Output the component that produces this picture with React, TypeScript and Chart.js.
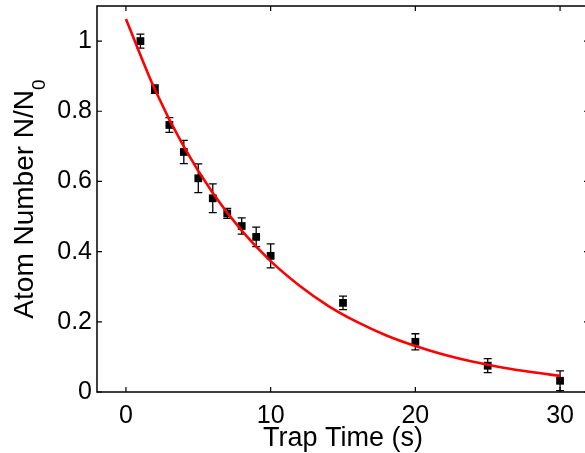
import React, { useEffect, useRef } from "react";
import { Chart, registerables } from "chart.js";

Chart.register(...registerables);

// Measured data (Trap time in s, normalised atom number, error bar half-height)
const trapTimes = [1, 2, 3, 4, 5, 6, 7, 8, 9, 10, 15, 20, 25, 30];
const atomNumbers = [1.0, 0.863, 0.761, 0.684, 0.609, 0.552, 0.509, 0.473, 0.442, 0.388, 0.254, 0.143, 0.075, 0.032];
const atomErrors = [0.02, 0.012, 0.021, 0.033, 0.041, 0.041, 0.014, 0.023, 0.028, 0.034, 0.019, 0.023, 0.02, 0.028];

// Fit curve
const fitTimes = [0, 2, 4, 6, 8, 10, 12, 14, 16, 18, 20, 22, 24, 26, 28, 30];
const fitValues = [1.063, 0.862, 0.699, 0.567, 0.46, 0.373, 0.303, 0.245, 0.199, 0.161, 0.131, 0.106, 0.086, 0.07, 0.057, 0.046];

// Axes
const xTicks = [0, 10, 20, 30];
const yTicks = [0, 0.2, 0.4, 0.6, 0.8, 1];
const yTickLabels = ["0", "0.2", "0.4", "0.6", "0.8", "1"];
const xTitle = "Trap Time (s)";
const yTitleMain = "Atom Number N/N";
const yTitleSub = "0";

const FONT = "'Liberation Sans', Arial, Helvetica, sans-serif";

export default function App() {
  const ref = useRef<HTMLCanvasElement>(null);

  useEffect(() => {
    const canvas = ref.current;
    if (!canvas) return;

    const framePlugin = {
      id: "frame",
      beforeDatasetsDraw(chart: any) {
        const { ctx, scales } = chart;
        const xs = scales.x;
        const ys = scales.y;
        ctx.save();
        ctx.strokeStyle = "#000";
        ctx.lineWidth = 1.3;
        trapTimes.forEach((t, i) => {
          const px = xs.getPixelForValue(t);
          const top = ys.getPixelForValue(atomNumbers[i] + atomErrors[i]);
          const bot = ys.getPixelForValue(atomNumbers[i] - atomErrors[i]);
          ctx.beginPath();
          ctx.moveTo(px, top);
          ctx.lineTo(px, bot);
          ctx.moveTo(px - 4, top);
          ctx.lineTo(px + 4, top);
          ctx.moveTo(px - 4, bot);
          ctx.lineTo(px + 4, bot);
          ctx.stroke();
        });
        ctx.restore();
      },
      afterDraw(chart: any) {
        const { ctx, chartArea, scales } = chart;
        const { left, right, top, bottom } = chartArea;
        const xs = scales.x;
        const ys = scales.y;
        ctx.save();
        ctx.strokeStyle = "#000";
        ctx.lineWidth = 1.5;
        ctx.strokeRect(left, top, right - left, bottom - top);
        ctx.lineWidth = 1.2;
        ctx.beginPath();
        const tl = 5;
        xTicks.forEach((v) => {
          const px = xs.getPixelForValue(v);
          ctx.moveTo(px, bottom);
          ctx.lineTo(px, bottom - tl);
          ctx.moveTo(px, top);
          ctx.lineTo(px, top + tl);
        });
        yTicks.forEach((v) => {
          const py = ys.getPixelForValue(v);
          ctx.moveTo(left, py);
          ctx.lineTo(left + tl, py);
          ctx.moveTo(right, py);
          ctx.lineTo(right - tl, py);
        });
        ctx.stroke();

        // axis titles
        ctx.fillStyle = "#000";
        ctx.font = `27px ${FONT}`;
        ctx.textAlign = "center";
        ctx.textBaseline = "alphabetic";
        ctx.fillText(xTitle, (left + right) / 2, 446);

        ctx.translate(33, (top + bottom) / 2);
        ctx.rotate(-Math.PI / 2);
        ctx.textAlign = "left";
        ctx.font = `28px ${FONT}`;
        const w1 = ctx.measureText(yTitleMain).width;
        ctx.font = `19px ${FONT}`;
        const w2 = ctx.measureText(yTitleSub).width;
        const start = -(w1 + w2) / 2;
        ctx.font = `28px ${FONT}`;
        ctx.fillText(yTitleMain, start, 0);
        ctx.font = `19px ${FONT}`;
        ctx.fillText(yTitleSub, start + w1, 12);
        ctx.restore();
      },
    };

    const chart = new Chart(canvas, {
      type: "scatter",
      data: {
        datasets: [
          {
            type: "line",
            label: "fit",
            data: fitTimes.map((x, i) => ({ x, y: fitValues[i] })),
            borderColor: "#ff0000",
            backgroundColor: "#ff0000",
            borderWidth: 2.6,
            pointRadius: 0,
            fill: false,
            cubicInterpolationMode: "monotone",
          } as any,
          {
            type: "scatter",
            label: "data",
            data: trapTimes.map((x, i) => ({ x, y: atomNumbers[i] })),
            backgroundColor: "#000",
            borderColor: "#000",
            borderWidth: 0,
            pointStyle: "rect",
            pointRadius: 5.5,
          },
        ],
      },
      options: {
        responsive: false,
        animation: false,
        devicePixelRatio: 1,
        layout: { padding: { left: 0, right: 31, top: 6, bottom: 0 } },
        plugins: { legend: { display: false }, tooltip: { enabled: false } },
        scales: {
          x: {
            type: "linear",
            position: "bottom",
            min: -2,
            max: 32,
            afterBuildTicks: (s: any) => {
              s.ticks = xTicks.map((v) => ({ value: v }));
            },
            afterFit: (s: any) => {
              s.height = 453 - 392;
              s.paddingLeft = 0;
              s.paddingRight = 0;
              s.paddingTop = 0;
              s.paddingBottom = 0;
            },
            grid: { display: false, drawTicks: false },
            border: { display: false },
            ticks: {
              color: "#000",
              font: { family: FONT, size: 25 },
              padding: 9,
              maxRotation: 0,
              autoSkip: false,
              callback: (v: any) => String(v),
            },
          },
          y: {
            type: "linear",
            min: 0,
            max: 1.1,
            afterBuildTicks: (s: any) => {
              s.ticks = yTicks.map((v) => ({ value: v }));
            },
            afterFit: (s: any) => {
              s.width = 97;
              s.paddingLeft = 0;
              s.paddingRight = 0;
              s.paddingTop = 0;
              s.paddingBottom = 0;
            },
            grid: { display: false, drawTicks: false },
            border: { display: false },
            ticks: {
              color: "#000",
              font: { family: FONT, size: 25 },
              padding: 5,
              autoSkip: false,
              callback: (v: any) => {
                const idx = yTicks.findIndex((t) => Math.abs(t - Number(v)) < 1e-9);
                return idx >= 0 ? yTickLabels[idx] : "";
              },
            },
          },
        },
      },
      plugins: [framePlugin],
    });

    return () => chart.destroy();
  }, []);

  return (
    <div
      style={{
        position: "fixed",
        left: 0,
        top: 0,
        width: 585,
        height: 453,
        overflow: "hidden",
        background: "#fff",
      }}
    >
      <canvas ref={ref} width={620} height={453} style={{ display: "block" }} />
    </div>
  );
}
